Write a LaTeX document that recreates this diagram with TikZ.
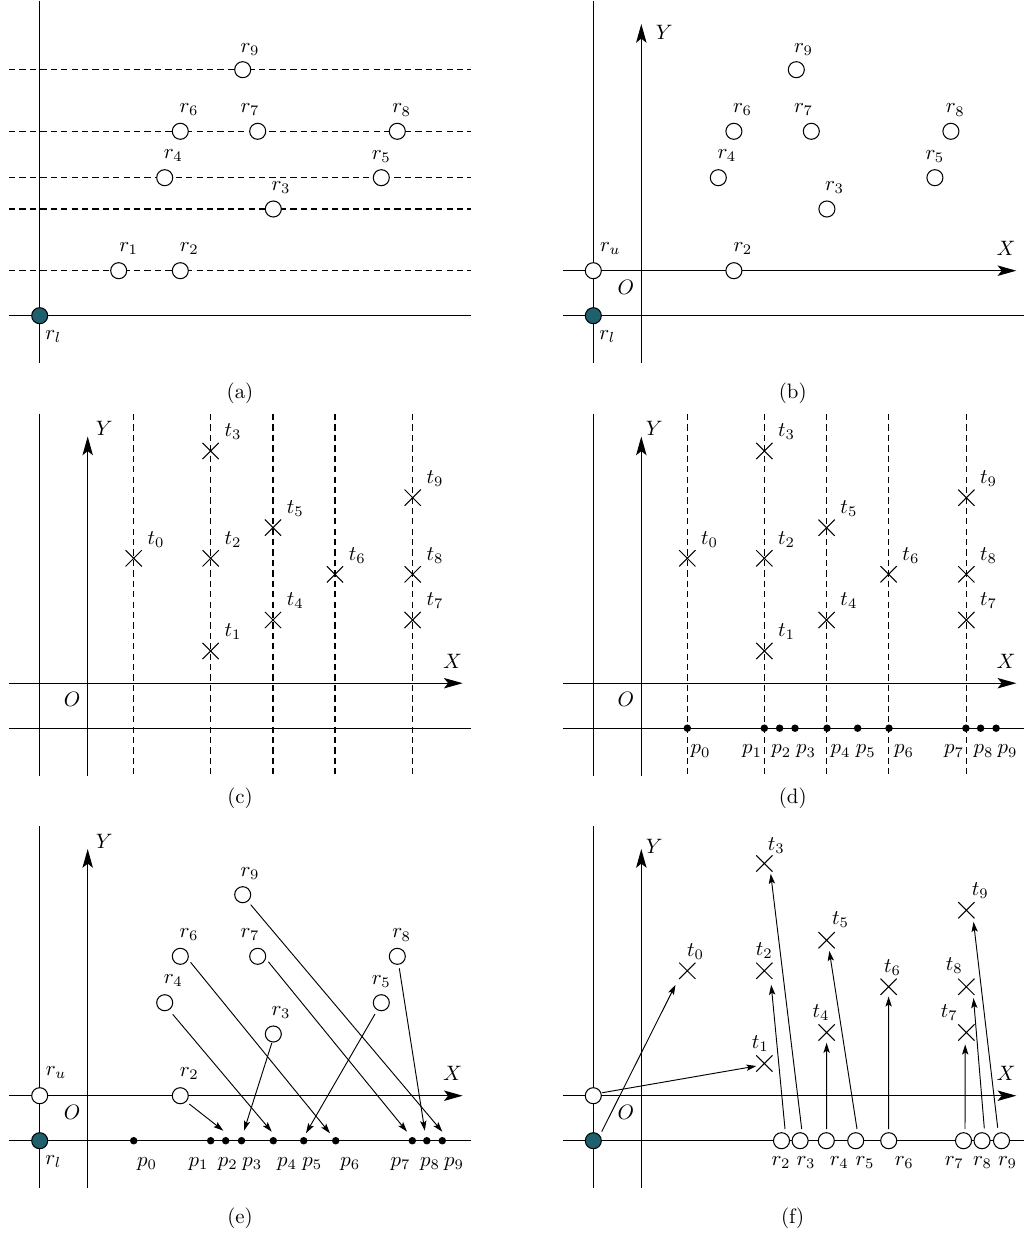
\documentclass[tikz,border=0pt]{standalone}
\usetikzlibrary{shapes.misc,arrows.meta,calc}
\definecolor{tealdot}{RGB}{30,96,110}
\newcommand\axesframe[3]{%
  \draw[rule] (39.7,1) -- (39.7,363);
  \draw[axis] (87.7,363) -- (87.7,24);
  \draw[axis] (9,270.7) -- (462.7,270.7);
  \draw[rule] (9,315.7) -- (471,315.7);
  \node[lbl] (#1-O) at (72.2,287) {$O$};
  \node[lbl] (#1-X) at (452.5,248.5) {$X$};
  \node[lbl] (#1-Y) at (#2,#3) {$Y$};
}
\begin{document}
\begin{tikzpicture}[x=0.48pt,y=-0.48pt,
  ring/.style={circle,draw,fill=white,minimum size=7.7pt,inner sep=0pt,line width=0.5pt},
  lead/.style={ring,fill=tealdot},
  tx/.style={cross out,draw,minimum size=7.3pt,inner sep=0pt,line width=0.5pt},
  pdot/.style={circle,fill=black,minimum size=3.6pt,inner sep=0pt},
  lbl/.style={inner sep=0pt},
  rule/.style={line width=0.5pt},
  guide/.style={line width=0.5pt,dash pattern=on 3pt off 2pt},
  axis/.style={line width=0.5pt,-{Stealth[length=9pt,width=5pt,inset=2pt]}},
  map/.style={line width=0.45pt,-{Stealth[length=4.8pt,width=3pt,inset=1pt]}},
]
\useasboundingbox (0,0) rectangle (1023,1234);

% ---------------- (a) ----------------
\begin{scope}
  \foreach \yy in {69.7,131.3,177.7,209,270.7} \draw[guide] (9,\yy) -- (471,\yy);
  \draw[rule] (39.7,1) -- (39.7,363);
  \draw[rule] (9,315.7) -- (471,315.7);
  \node[lead] (a-rl) at (39.7,315.7) {};
  \node[lbl] (a-lrl) at ($(a-rl)+(13.6,20.7)$) {$r_l$};
  \foreach \n/\x/\y/\dx/\dy in {1/118.7/270.7/10/-22.4, 2/180.3/270.7/9/-22.4,
      3/273.3/209/7.7/-21.3, 4/164.7/177.7/8.6/-22, 5/381.3/177.7/0/-21,
      6/180.3/131.3/8.7/-22, 7/257.7/131.3/-7.7/-22, 8/397.3/131.3/4.4/-21.3,
      9/242.7/69.7/7.3/-20.4}{
    \node[ring] (a-r\n) at (\x,\y) {};
    \node[lbl] (a-lr\n) at ($(a-r\n)+(\dx,\dy)$) {$r_{\n}$};
  }
\end{scope}

% ---------------- (b) ----------------
\begin{scope}[shift={(553.6,0)}]
  \axesframe{b}{110.7}{32}
  \node[ring] (b-ru) at (39.7,270.7) {};
  \node[lead] (b-rl) at (39.7,315.7) {};
  \node[lbl] (b-lru) at ($(b-ru)+(17,-22.4)$) {$r_u$};
  \node[lbl] (b-lrl) at ($(b-rl)+(14,21)$) {$r_l$};
  \foreach \n/\x/\y/\dx/\dy in {2/180.3/270.7/9/-22.4,
      3/273.3/209/7.7/-21.3, 4/164.7/177.7/8.6/-22, 5/381.3/177.7/0/-21,
      6/180.3/131.3/8.7/-22, 7/257.7/131.3/-7.7/-22, 8/397.3/131.3/4.4/-21.3,
      9/242.7/69.7/7.3/-20.4}{
    \node[ring] (b-r\n) at (\x,\y) {};
    \node[lbl] (b-lr\n) at ($(b-r\n)+(\dx,\dy)$) {$r_{\n}$};
  }
\end{scope}

% ---------------- (c) ----------------
\begin{scope}[shift={(0,412.5)}]
  \foreach \xx in {133.7,210.7,273,335,412.7} \draw[guide] (\xx,1.5) -- (\xx,362.5);
  \axesframe{c}{104.3}{16}
  \foreach \n/\x/\y in {0/133.7/145.8, 1/210.7/238.5, 2/210.7/145.8, 3/210.7/38.5,
      4/273/207.5, 5/273/115.2, 6/335/161.8, 7/412.7/207.5, 8/412.7/161.8, 9/412.7/85.2}{
    \node[tx] (c-t\n) at (\x,\y) {};
    \node[lbl] (c-lt\n) at ($(c-t\n)+(22.3,-19)$) {$t_{\n}$};
  }
\end{scope}

% ---------------- (d) ----------------
\begin{scope}[shift={(553.6,412.5)}]
  \foreach \xx in {133.7,210.7,273,335,412.7} \draw[guide] (\xx,1.5) -- (\xx,362.5);
  \axesframe{d}{100.7}{16}
  \foreach \n/\x/\y in {0/133.7/145.8, 1/210.7/238.5, 2/210.7/145.8, 3/210.7/38.5,
      4/273/207.5, 5/273/115.2, 6/335/161.8, 7/412.7/207.5, 8/412.7/161.8, 9/412.7/85.2}{
    \node[tx] (d-t\n) at (\x,\y) {};
    \node[lbl] (d-lt\n) at ($(d-t\n)+(22.3,-19)$) {$t_{\n}$};
  }
  \foreach \n/\x/\lx in {0/133.7/147, 1/210.7/198.5, 2/226/227.7, 3/241.4/252.4,
      4/273.4/287, 5/304/312.2, 6/335.4/350.4, 7/412.3/400.5, 8/427/430, 9/442.5/454}{
    \node[pdot] (d-p\n) at (\x,315.7) {};
    \node[lbl] (d-lp\n) at (\lx,339) {$p_{\n}$};
  }
\end{scope}

% ---------------- (e) ----------------
\begin{scope}[shift={(0,825)}]
  \axesframe{e}{104.3}{16}
  \node[ring] (e-ru) at (39.7,270.7) {};
  \node[lead] (e-rl) at (39.7,315.7) {};
  \node[lbl] (e-lru) at ($(e-ru)+(16.3,-23.4)$) {$r_u$};
  \node[lbl] (e-lrl) at ($(e-rl)+(13.6,21)$) {$r_l$};
  \foreach \n/\x/\y/\dx/\dy in {2/180.3/270.7/9/-22.4,
      3/273.3/209/7.7/-21.3, 4/164.7/177.7/8.6/-22, 5/381.3/177.7/0/-21,
      6/180.3/131.3/8.7/-22, 7/257.7/131.3/-7.7/-22, 8/397.3/131.3/4.4/-21.3,
      9/242.7/69.7/7.3/-21.4}{
    \node[ring] (e-r\n) at (\x,\y) {};
    \node[lbl] (e-lr\n) at ($(e-r\n)+(\dx,\dy)$) {$r_{\n}$};
  }
  \foreach \n/\x/\lx in {0/133.7/147, 1/210.7/198.5, 2/225.7/227.7, 3/241.5/252.4,
      4/273.3/287, 5/303.7/312.2, 6/335.7/350.4, 7/412.3/400.5, 8/426.8/430, 9/442.3/454}{
    \node[pdot] (e-p\n) at (\x,315.7) {};
    \node[lbl] (e-lp\n) at (\lx,339) {$p_{\n}$};
  }
  \draw[map] ($(e-r2)+(9,8.3)$) -- ($(e-p2)+(-2.4,-10)$);
  \draw[map] ($(e-r3)+(-1.5,9)$) -- ($(e-p3)+(2.5,-10)$);
  \draw[map] ($(e-r4)+(8,11.6)$) -- ($(e-p4)+(-1.6,-9)$);
  \draw[map] ($(e-r5)+(-6.3,11.3)$) -- ($(e-p5)+(2.3,-7.5)$);
  \draw[map] ($(e-r6)+(10.3,6)$) -- ($(e-p6)+(-5.7,-7.4)$);
  \draw[map] ($(e-r7)+(10.6,5.4)$) -- ($(e-p7)+(-5.3,-9)$);
  \draw[map] ($(e-r8)+(2,12)$) -- ($(e-p8)+(-2,-10)$);
  \draw[map] ($(e-r9)+(8,10)$) -- ($(e-p9)+(0,-9)$);
\end{scope}

% ---------------- (f) ----------------
\begin{scope}[shift={(553.6,825)}]
  \axesframe{f}{100.7}{21}
  \node[ring] (f-ru) at (39.7,270.7) {};
  \node[lead] (f-rl) at (39.7,315.7) {};
  \foreach \n/\x/\y/\dx/\dy in {0/133.7/145.8/8.3/-19.4, 1/210.7/238.5/-4/-20,
      2/210.7/145.8/0/-20, 3/210.7/38.5/12/-18, 4/273/207.5/-5.6/-20,
      5/273/115.2/14/-21, 6/335/161.8/4/-19, 7/412.7/207.5/-17/-20,
      8/412.7/161.8/-12/-21, 9/412.7/85.2/14/-20}{
    \node[tx] (f-t\n) at (\x,\y) {};
    \node[lbl] (f-lt\n) at ($(f-t\n)+(\dx,\dy)$) {$t_{\n}$};
  }
  \foreach \n/\x/\lx in {2/227.9/227.4, 3/246.5/252.4, 4/272.7/285.7, 5/302.1/311.4,
      6/335.1/350.7, 7/409.9/400.7, 8/428.4/429, 9/447.9/454}{
    \node[ring] (f-r\n) at (\x,315.7) {};
    \node[lbl] (f-lr\n) at (\lx,337.3) {$r_{\n}$};
  }
  \draw[map] ($(f-rl)+(8.4,-9)$) -- ($(f-t0)+(-11.8,14)$);
  \draw[map] ($(f-ru)+(9,-3)$) -- ($(f-t1)+(-7.9,2.5)$);
  \draw[map] ($(f-r2)+(3.5,-11.7)$) -- ($(f-t2)+(6.9,14)$);
  \draw[map] ($(f-r3)+(1.6,-11.7)$) -- ($(f-t3)+(6.4,10.3)$);
  \draw[map] ($(f-r4)+(0.4,-11.7)$) -- ($(f-t4)+(0,10.3)$);
  \draw[map] ($(f-r5)+(1.3,-11.7)$) -- ($(f-t5)+(2.7,10.7)$);
  \draw[map] ($(f-r6)+(0,-11.7)$) -- ($(f-t6)+(0,9.7)$);
  \draw[map] ($(f-r7)+(1.5,-11.7)$) -- ($(f-t7)+(-1.1,12)$);
  \draw[map] ($(f-r8)+(2.3,-12.4)$) -- ($(f-t8)+(7.2,11.3)$);
  \draw[map] ($(f-r9)+(-3.8,-13)$) -- ($(f-t9)+(7.2,11.7)$);
\end{scope}

% ---------------- captions ----------------
\node[lbl] (cap-a) at (240,393) {(a)};
\node[lbl] (cap-b) at (792.7,393) {(b)};
\node[lbl] (cap-c) at (240,798) {(c)};
\node[lbl] (cap-d) at (792.7,798) {(d)};
\node[lbl] (cap-e) at (240,1218) {(e)};
\node[lbl] (cap-f) at (792.7,1218) {(f)};
\end{tikzpicture}
\end{document}
